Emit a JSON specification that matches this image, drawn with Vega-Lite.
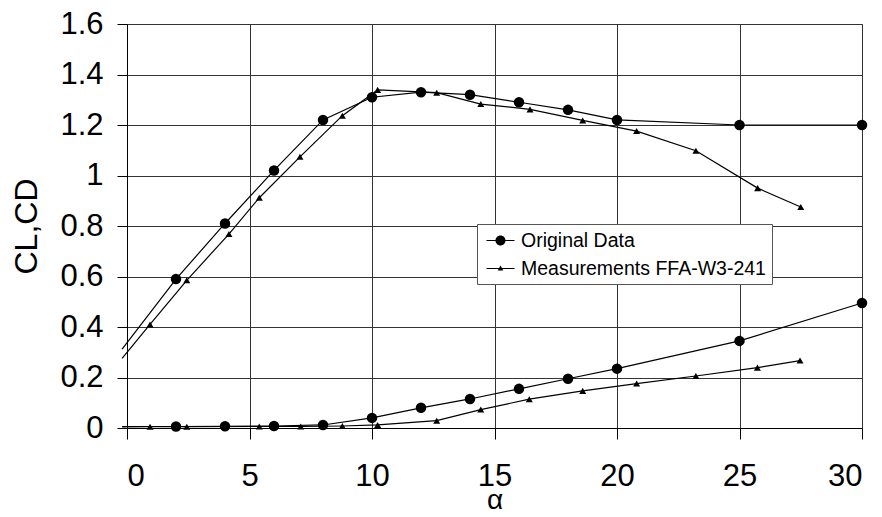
{
  "$schema": "https://vega.github.io/schema/vega-lite/v6.json",
  "width": 735,
  "height": 404,
  "autosize": "none",
  "padding": {"left": 127, "top": 24, "right": 20, "bottom": 89},
  "background": "white",
  "config": {
    "font": "Liberation Sans",
    "view": {"stroke": "#808080", "strokeWidth": 1},
    "axis": {
      "labelFont": "Liberation Sans",
      "titleFont": "Liberation Sans",
      "labelColor": "black",
      "titleColor": "black",
      "domainColor": "black",
      "tickColor": "black",
      "gridColor": "#333333",
      "gridWidth": 1,
      "labelFontSize": 31,
      "titleFontWeight": "normal"
    }
  },
  "data": {
    "values": [
      {"alpha": -0.2, "value": 0.312, "series": "Original Data", "coef": "CL"},
      {"alpha": 2, "value": 0.59, "series": "Original Data", "coef": "CL"},
      {"alpha": 4, "value": 0.81, "series": "Original Data", "coef": "CL"},
      {"alpha": 6, "value": 1.02, "series": "Original Data", "coef": "CL"},
      {"alpha": 8, "value": 1.22, "series": "Original Data", "coef": "CL"},
      {"alpha": 10, "value": 1.31, "series": "Original Data", "coef": "CL"},
      {"alpha": 12, "value": 1.33, "series": "Original Data", "coef": "CL"},
      {"alpha": 14, "value": 1.32, "series": "Original Data", "coef": "CL"},
      {"alpha": 16, "value": 1.29, "series": "Original Data", "coef": "CL"},
      {"alpha": 18, "value": 1.26, "series": "Original Data", "coef": "CL"},
      {"alpha": 20, "value": 1.22, "series": "Original Data", "coef": "CL"},
      {"alpha": 25, "value": 1.2, "series": "Original Data", "coef": "CL"},
      {"alpha": 30, "value": 1.2, "series": "Original Data", "coef": "CL"},
      {"alpha": -0.2, "value": 0.006, "series": "Original Data", "coef": "CD"},
      {"alpha": 2, "value": 0.006, "series": "Original Data", "coef": "CD"},
      {"alpha": 4, "value": 0.007, "series": "Original Data", "coef": "CD"},
      {"alpha": 6, "value": 0.008, "series": "Original Data", "coef": "CD"},
      {"alpha": 8, "value": 0.012, "series": "Original Data", "coef": "CD"},
      {"alpha": 10, "value": 0.04, "series": "Original Data", "coef": "CD"},
      {"alpha": 12, "value": 0.08, "series": "Original Data", "coef": "CD"},
      {"alpha": 14, "value": 0.115, "series": "Original Data", "coef": "CD"},
      {"alpha": 16, "value": 0.155, "series": "Original Data", "coef": "CD"},
      {"alpha": 18, "value": 0.195, "series": "Original Data", "coef": "CD"},
      {"alpha": 20, "value": 0.235, "series": "Original Data", "coef": "CD"},
      {"alpha": 25, "value": 0.345, "series": "Original Data", "coef": "CD"},
      {"alpha": 30, "value": 0.495, "series": "Original Data", "coef": "CD"},
      {"alpha": -0.2, "value": 0.276, "series": "Measurements FFA-W3-241", "coef": "CL"},
      {"alpha": 0.94, "value": 0.41, "series": "Measurements FFA-W3-241", "coef": "CL"},
      {"alpha": 2.44, "value": 0.585, "series": "Measurements FFA-W3-241", "coef": "CL"},
      {"alpha": 4.16, "value": 0.768, "series": "Measurements FFA-W3-241", "coef": "CL"},
      {"alpha": 5.4, "value": 0.912, "series": "Measurements FFA-W3-241", "coef": "CL"},
      {"alpha": 7.06, "value": 1.074, "series": "Measurements FFA-W3-241", "coef": "CL"},
      {"alpha": 8.79, "value": 1.237, "series": "Measurements FFA-W3-241", "coef": "CL"},
      {"alpha": 10.23, "value": 1.339, "series": "Measurements FFA-W3-241", "coef": "CL"},
      {"alpha": 12.64, "value": 1.328, "series": "Measurements FFA-W3-241", "coef": "CL"},
      {"alpha": 14.44, "value": 1.283, "series": "Measurements FFA-W3-241", "coef": "CL"},
      {"alpha": 16.45, "value": 1.262, "series": "Measurements FFA-W3-241", "coef": "CL"},
      {"alpha": 18.6, "value": 1.218, "series": "Measurements FFA-W3-241", "coef": "CL"},
      {"alpha": 20.8, "value": 1.176, "series": "Measurements FFA-W3-241", "coef": "CL"},
      {"alpha": 23.22, "value": 1.098, "series": "Measurements FFA-W3-241", "coef": "CL"},
      {"alpha": 25.74, "value": 0.95, "series": "Measurements FFA-W3-241", "coef": "CL"},
      {"alpha": 27.5, "value": 0.875, "series": "Measurements FFA-W3-241", "coef": "CL"},
      {"alpha": -0.2, "value": 0.004, "series": "Measurements FFA-W3-241", "coef": "CD"},
      {"alpha": 0.94, "value": 0.005, "series": "Measurements FFA-W3-241", "coef": "CD"},
      {"alpha": 2.44, "value": 0.005, "series": "Measurements FFA-W3-241", "coef": "CD"},
      {"alpha": 5.4, "value": 0.006, "series": "Measurements FFA-W3-241", "coef": "CD"},
      {"alpha": 7.09, "value": 0.006, "series": "Measurements FFA-W3-241", "coef": "CD"},
      {"alpha": 8.79, "value": 0.008, "series": "Measurements FFA-W3-241", "coef": "CD"},
      {"alpha": 10.23, "value": 0.012, "series": "Measurements FFA-W3-241", "coef": "CD"},
      {"alpha": 12.64, "value": 0.029, "series": "Measurements FFA-W3-241", "coef": "CD"},
      {"alpha": 14.44, "value": 0.073, "series": "Measurements FFA-W3-241", "coef": "CD"},
      {"alpha": 16.42, "value": 0.114, "series": "Measurements FFA-W3-241", "coef": "CD"},
      {"alpha": 18.6, "value": 0.147, "series": "Measurements FFA-W3-241", "coef": "CD"},
      {"alpha": 20.8, "value": 0.176, "series": "Measurements FFA-W3-241", "coef": "CD"},
      {"alpha": 23.22, "value": 0.206, "series": "Measurements FFA-W3-241", "coef": "CD"},
      {"alpha": 25.73, "value": 0.239, "series": "Measurements FFA-W3-241", "coef": "CD"},
      {"alpha": 27.47, "value": 0.267, "series": "Measurements FFA-W3-241", "coef": "CD"}
    ]
  },
  "encoding": {
    "x": {
      "field": "alpha",
      "type": "quantitative",
      "scale": {"domain": [0, 30], "nice": false, "zero": false},
      "axis": {
        "values": [0, 5, 10, 15, 20, 25, 30],
        "title": "α",
        "titleFontSize": 28,
        "titlePadding": -5,
        "tickSize": 11,
        "labelPadding": 22,
        "grid": true
      }
    },
    "y": {
      "field": "value",
      "type": "quantitative",
      "scale": {"domain": [0, 1.6], "nice": false},
      "axis": {
        "values": [0, 0.2, 0.4, 0.6, 0.8, 1, 1.2, 1.4, 1.6],
        "format": "~g",
        "title": "CL,CD",
        "titleFontSize": 32,
        "titlePadding": 16,
        "tickSize": 10,
        "labelPadding": 14,
        "grid": true
      }
    }
  },
  "layer": [
    {
      "mark": {"type": "line", "color": "black", "strokeWidth": 1.2},
      "encoding": {
        "detail": [{"field": "series"}, {"field": "coef"}]
      }
    },
    {
      "transform": [{"filter": "datum.alpha >= 0 && datum.series == 'Original Data'"}],
      "mark": {"type": "point", "filled": true, "color": "black", "opacity": 1, "shape": "circle", "size": 110}
    },
    {
      "transform": [{"filter": "datum.alpha >= 0 && datum.series == 'Measurements FFA-W3-241'"}],
      "mark": {"type": "point", "filled": true, "color": "black", "opacity": 1, "shape": "triangle-up", "size": 49}
    },
    {
      "transform": [{"filter": "datum.alpha < -100"}],
      "mark": {"type": "point", "filled": true, "color": "black", "opacity": 1},
      "encoding": {
        "shape": {
          "field": "series",
          "type": "nominal",
          "scale": {
            "domain": ["Original Data", "Measurements FFA-W3-241"],
            "range": [
              "M-1.4,-0.06L1.4,-0.06L1.4,0.06L-1.4,0.06ZM0.5,0A0.5,0.5,0,1,1,-0.5,0A0.5,0.5,0,1,1,0.5,0Z",
              "M-1.4,-0.06L1.4,-0.06L1.4,0.06L-1.4,0.06ZM0,-0.3L0.28,0.2L-0.28,0.2Z"
            ]
          },
          "legend": {
            "title": null,
            "orient": "none",
            "legendX": 350,
            "legendY": 200,
            "padding": 6,
            "strokeColor": "#555555",
            "fillColor": "white",
            "symbolSize": 400,
            "symbolFillColor": "black",
            "symbolStrokeColor": "black",
            "symbolStrokeWidth": 1,
            "symbolOffset": 7,
            "labelOffset": 10,
            "labelLimit": 500,
            "labelFontSize": 19.5,
            "labelFont": "Liberation Sans",
            "labelColor": "black",
            "rowPadding": 8
          }
        }
      }
    }
  ]
}
